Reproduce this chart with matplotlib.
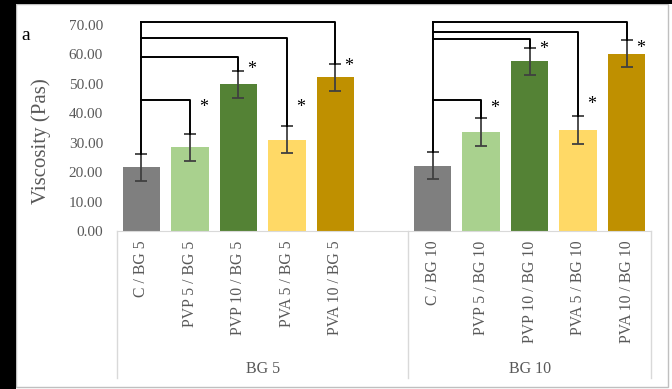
import matplotlib
matplotlib.use("Agg")
import matplotlib.pyplot as plt
import matplotlib.transforms as mtransforms
from matplotlib.patches import Rectangle
import numpy as np

# ---- data ----
groups = ["BG 5", "BG 10"]
categories_bg5 = ["C / BG 5", "PVP 5 / BG 5", "PVP 10 / BG 5", "PVA 5 / BG 5", "PVA 10 / BG 5"]
categories_bg10 = ["C / BG 10", "PVP 5 / BG 10", "PVP 10 / BG 10", "PVA 5 / BG 10", "PVA 10 / BG 10"]
values_bg5 = [21.7, 28.4, 49.8, 31.0, 52.2]
values_bg10 = [22.2, 33.7, 57.6, 34.3, 60.3]
errors_bg5 = [4.6, 4.6, 4.7, 4.6, 4.7]
errors_bg10 = [4.6, 4.7, 4.5, 4.7, 4.6]
# comparison bracket heights (control vs each treatment)
bracket_bg5 = [44.6, 59.2, 65.5, 70.9]
bracket_bg10 = [44.6, 65.1, 67.7, 70.9]
# asterisk heights
star_bg5 = [42.0, 55.0, 42.0, 56.0]
star_bg10 = [41.5, 61.8, 43.0, 62.0]
yticks = [0, 10, 20, 30, 40, 50, 60, 70]

colors = ["#7F7F7F", "#A9D18E", "#548235", "#FFD966", "#BF9000"]

plt.rcParams['font.family'] = ['Liberation Serif', 'DejaVu Serif']

W, H = 672, 389
fig = plt.figure(figsize=(W / 100, H / 100), dpi=100)
fig.patch.set_facecolor("white")
ax = fig.add_axes([117 / W, 1 - 231 / H, (651 - 117) / W, (231 - 25) / H])

pos_bg5 = np.arange(5)
pos_bg10 = np.arange(6, 11)
positions = np.concatenate([pos_bg5, pos_bg10])
values = values_bg5 + values_bg10
errors = errors_bg5 + errors_bg10
bar_colors = colors + colors

ax.bar(positions, values, width=0.77, color=bar_colors, zorder=2)
ax.errorbar(positions, values, yerr=errors, fmt="none", ecolor="#404040",
            elinewidth=1.3, capsize=4, capthick=1.3, zorder=3)

ax.set_xlim(-0.5, 10.5)
ax.set_ylim(0, 70)
ax.set_yticks(yticks)
ax.set_yticklabels([f"{v:.2f}" for v in yticks], color="#595959", fontsize=11)
ax.tick_params(axis="y", length=0, pad=10)
ax.set_xticks(positions)
ax.set_xticklabels(categories_bg5 + categories_bg10, rotation=90, color="#595959",
                   fontsize=11.3, va="top", ha="center")
ax.tick_params(axis="x", length=0, pad=7)
for s in ["top", "right", "left"]:
    ax.spines[s].set_visible(False)
ax.spines["bottom"].set_color("#D9D9D9")
ax.set_ylabel("Viscosity (Pas)", fontsize=15, color="#595959")
ax.yaxis.set_label_coords((51 - 117) / 534, (231 - 141) / 206)

# category box dividers
trans = mtransforms.blended_transform_factory(ax.transData, ax.transAxes)
ybot = -(378 - 231) / 206
for xd in [-0.5, 5.5, 10.5]:
    ax.plot([xd, xd], [0, ybot], transform=trans, color="#D9D9D9", lw=1, clip_on=False)
ax.text(2.5, -(369 - 231) / 206, groups[0], transform=trans, ha="center", va="center",
        fontsize=11.5, color="#595959")
ax.text(8.0, -(369 - 231) / 206, groups[1], transform=trans, ha="center", va="center",
        fontsize=11.5, color="#595959")

# comparison brackets and asterisks
def draw_brackets(pos, vals, errs, levels, stars):
    x0 = pos[0]
    ax.plot([x0, x0], [vals[0] + errs[0], max(levels)], color="black", lw=1.4,
            clip_on=False, zorder=4)
    for k, lvl in enumerate(levels):
        j = k + 1
        xj = pos[j]
        ax.plot([x0, xj, xj], [lvl, lvl, vals[j] + errs[j]], color="black", lw=1.4,
                clip_on=False, zorder=4)
        ax.text(xj + 0.28, stars[k], "*", ha="center", va="center", fontsize=13,
                color="black", zorder=5)

draw_brackets(pos_bg5, values_bg5, errors_bg5, bracket_bg5, star_bg5)
draw_brackets(pos_bg10, values_bg10, errors_bg10, bracket_bg10, star_bg10)

fig.text(26 / W, 1 - 35 / H, "a", fontsize=14, color="black", ha="center", va="center")

# outer frame
fig.patches.append(Rectangle((16 / W, 1 - 387 / H), (668 - 16) / W, (387 - 4) / H,
                             transform=fig.transFigure, fill=False, edgecolor="#BFBFBF", lw=1))
fig.patches.append(Rectangle((0, 0), 16 / W, 1, transform=fig.transFigure,
                             facecolor="black", edgecolor="none"))
fig.patches.append(Rectangle((0, 1 - 4 / H), 1, 4 / H, transform=fig.transFigure,
                             facecolor="black", edgecolor="none"))

fig.savefig("out.png", dpi=100)
